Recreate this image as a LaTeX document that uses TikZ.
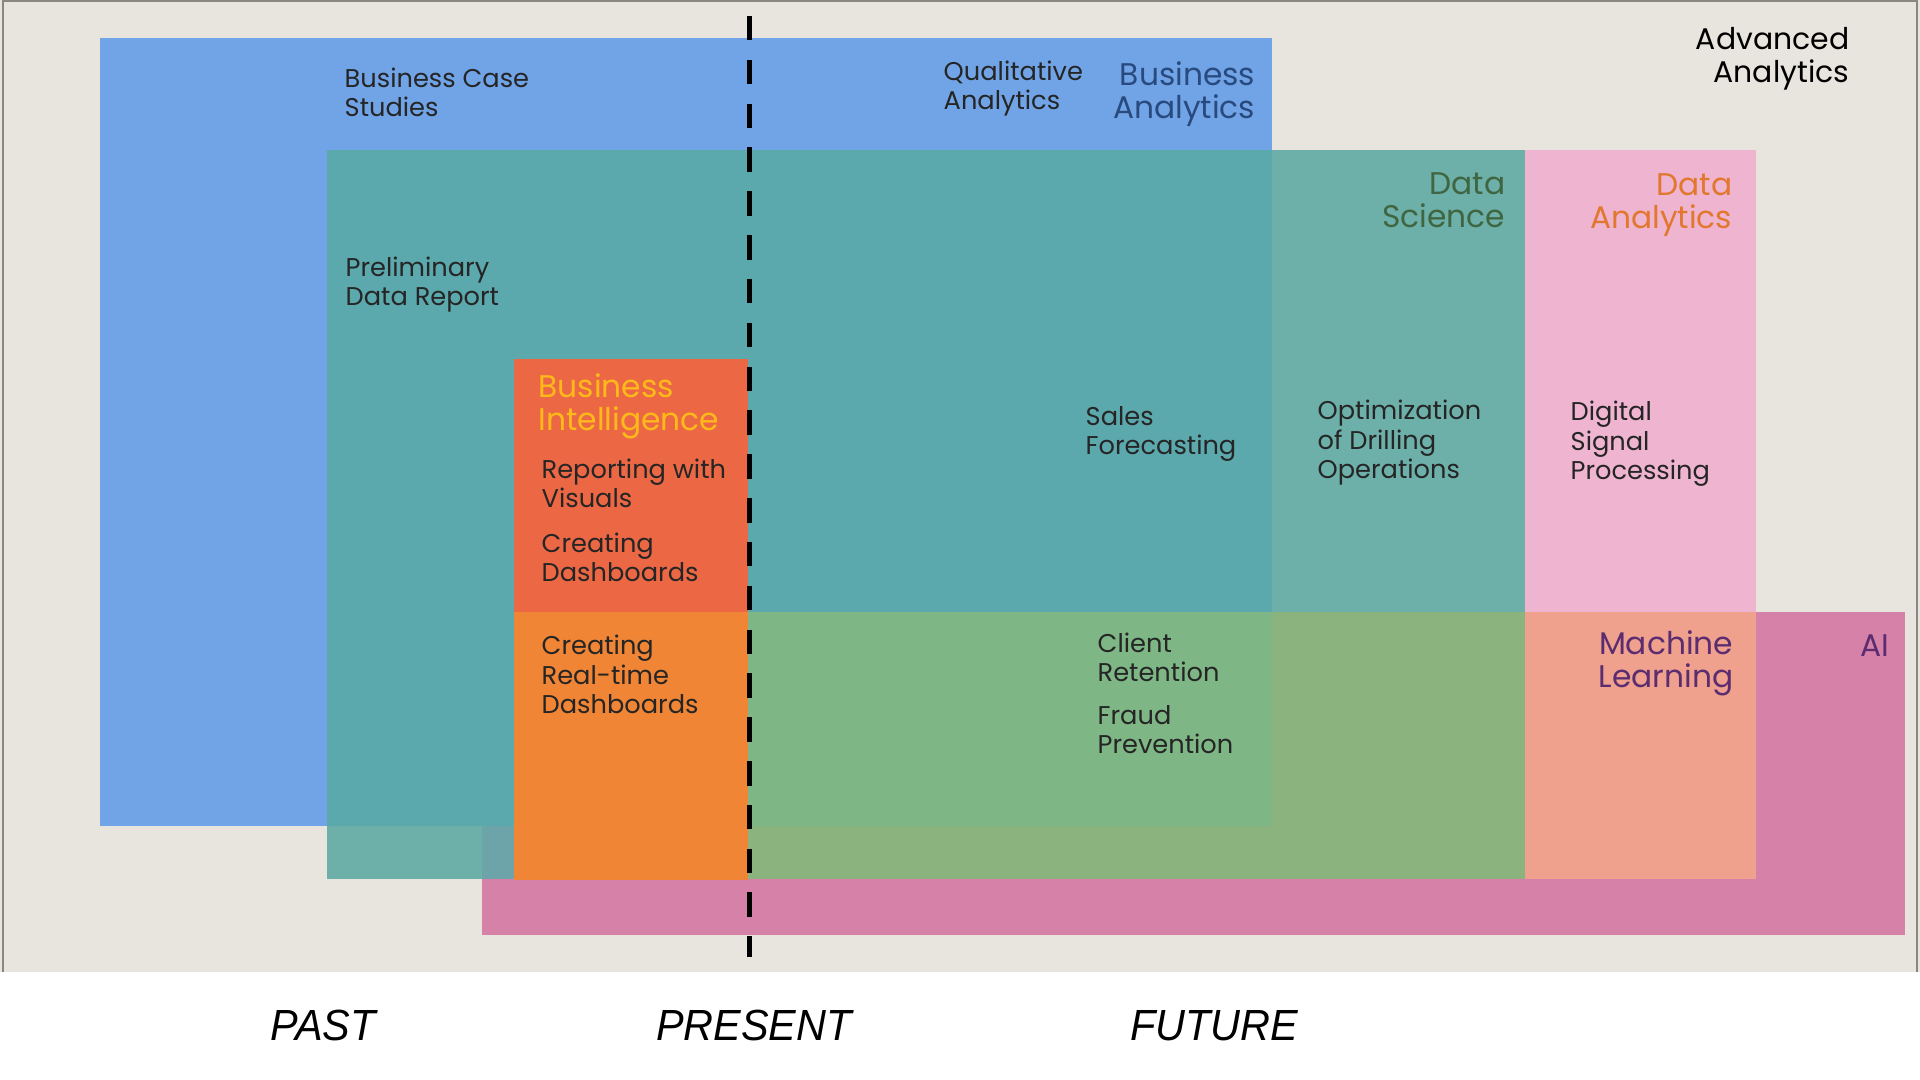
\documentclass[tikz,border=0pt]{standalone}
\usepackage{fontspec}
\setmainfont{Poppins}
\newfontfamily\erafont[FakeStretch=0.95]{Liberation Sans}
\usepackage{tikz}
\usetikzlibrary{positioning}

\definecolor{canvas}{HTML}{E8E4DE}
\definecolor{frame}{HTML}{8A8680}
\definecolor{bablue}{HTML}{71A4E6}
\definecolor{dsteal}{HTML}{6CB0A9}
\definecolor{dsblue}{HTML}{5BA8AD}
\definecolor{dspink}{HTML}{6DA4AA}
\definecolor{dapink}{HTML}{EEB4D0}
\definecolor{aipink}{HTML}{D682A8}
\definecolor{bired}{HTML}{EC6845}
\definecolor{mlorange}{HTML}{F08535}
\definecolor{mlgreen}{HTML}{7EB785}
\definecolor{mlolive}{HTML}{8BB37E}
\definecolor{mlsalmon}{HTML}{EFA18D}
\definecolor{inktext}{HTML}{252525}
\definecolor{banavy}{HTML}{294A7E}
\definecolor{dsgreen}{HTML}{3F6541}
\definecolor{daorange}{HTML}{E2772E}
\definecolor{bigold}{HTML}{FFBA1A}
\definecolor{mlpurple}{HTML}{5B2C70}

\begin{document}
\begin{tikzpicture}[
    x=0.01cm, y=-0.01cm,
    item/.style={anchor=base west, align=left, inner sep=0pt, text=inktext, font=\fontsize{7.3}{8.5}\selectfont},
    head/.style={anchor=base east, align=right, inner sep=0pt, font=\fontsize{8.9}{9.4}\selectfont},
    era/.style={anchor=base, inner sep=0pt, font=\erafont\itshape\fontsize{12.4}{14}\selectfont},
    nowline/.style={line width=0.05cm, dash pattern=on 0.245cm off 0.193cm}
]
    \useasboundingbox (0,0) rectangle (1920,1080);
    \fill[white] (0,0) rectangle (1920,1080);

    % Background
    \fill[canvas] (0,0) rectangle (1920,972);
    \draw[frame, line width=0.02cm] (3,972) -- (3,1) -- (1917,1) -- (1917,972);

    % AI
    \fill[aipink] (482,612) rectangle (1905,935);

    % Business Analytics
    \fill[bablue] (100,38) rectangle (1272,826);

    % Data Science
    \fill[dsteal] (327,150) rectangle (1525,879);
    \fill[dsblue] (327,150) rectangle (1272,826);
    \fill[dspink] (482,826) rectangle (514,879);

    % Data Analytics
    \fill[dapink] (1525,150) rectangle (1756,879);

    % Business Intelligence
    \fill[bired] (514,359) rectangle (748,612);

    % Machine Learning
    \fill[mlorange] (514,612) rectangle (748,880);
    \fill[mlolive] (748,612) rectangle (1525,879);
    \fill[mlgreen] (748,612) rectangle (1272,826);
    \fill[mlsalmon] (1525,612) rectangle (1756,879);

    % Present line
    \coordinate (nowtop) at (749,16);
    \coordinate (nowbot) at (749,957);
    \draw[nowline] (nowtop) -- (nowbot);

    % Headings (placed at the baseline of their last line)
    \node[head, text=banavy] (ba) at (1256,119) {Business\\Analytics};
    \node[head, text=black, font=\fontsize{8.5}{9.4}\selectfont] (adv) at (1850,83) {Advanced\\Analytics};
    \node[head, text=dsgreen] (ds) at (1506,228) {Data\\Science};
    \node[head, text=daorange] (da) at (1733,229) {Data\\Analytics};
    \node[head, anchor=base west, align=left, text=bigold] (bi) at (538,431) {Business\\Intelligence};
    \node[head, text=mlpurple] (ml) at (1734,688) {Machine\\Learning};
    \node[head, text=mlpurple] (ai) at (1890,657) {AI};

    % Items
    \node[item] (bcase) at (344,117) {Business Case\\Studies};
    \node[item] (qual) at (943,110) {Qualitative\\Analytics};
    \node[item] (prelim) at (345,306) {Preliminary\\Data Report};
    \node[item] (visuals) at (541,508) {Reporting with\\Visuals};
    \node[item] (dashb) at (541,582) {Creating\\Dashboards};
    \node[item] (realtime) at (541,714) {Creating\\Real-time\\Dashboards};
    \node[item] (sales) at (1085,455) {Sales\\Forecasting};
    \node[item] (drill) at (1317,479) {Optimization\\of Drilling\\Operations};
    \node[item] (dsp) at (1570,480) {Digital\\Signal\\Processing};
    \node[item] (client) at (1097,682) {Client\\Retention};
    \node[item] (fraud) at (1097,754) {Fraud\\Prevention};

    % Time axis
    \node[era] (past) at (323,1041) {PAST};
    \node[era] (now) at (754,1041) {PRESENT};
    \node[era] (future) at (1214,1041) {FUTURE};
\end{tikzpicture}
\end{document}
